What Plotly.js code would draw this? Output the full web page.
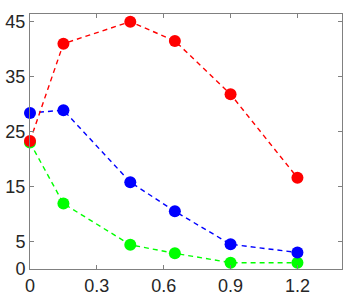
<!DOCTYPE html>
<html><head><meta charset="utf-8">
<script src="https://cdn.plot.ly/plotly-3.0.1.min.js"></script>
<style>html,body{margin:0;padding:0;background:#fff;}#chart{width:362px;height:300px;}</style>
</head><body><div id="chart"></div>
<script>
const xs = [0, 0.15, 0.45, 0.65, 0.9, 1.2];
const redVals = [23.3, 41.0, 45.0, 41.5, 31.8, 16.6];
const blueVals = [28.4, 28.9, 15.8, 10.5, 4.5, 3.0];
const greenVals = [23.0, 11.9, 4.4, 2.85, 1.15, 1.15];
const xTicks = [0, 0.3, 0.6, 0.9, 1.2];
const xTickText = ['0', '0.3', '0.6', '0.9', '1.2'];
const yTicks = [0, 5, 15, 25, 35, 45];
const yTickText = ['0', '5', '15', '25', '35', '45'];

function series(y, color) {
  return {x: xs, y: y, type: 'scatter', mode: 'lines+markers', cliponaxis: false,
    line: {color: color, width: 1.4, dash: '5px,4px'},
    marker: {color: color, size: 12}};
}
const data = [series(greenVals, '#00ff00'), series(blueVals, '#0000ff'), series(redVals, '#ff0000')];
const axisCommon = {showgrid: false, zeroline: false, showline: true, mirror: 'ticks',
  linecolor: '#808080', linewidth: 1, ticks: 'inside', ticklen: 4, tickcolor: '#808080',
  tickfont: {family: 'Liberation Sans, Arial, sans-serif', size: 18, color: '#262626'}};
const layout = {
  width: 362, height: 300, showlegend: false,
  margin: {l: 30, r: 20, t: 14, b: 31},
  paper_bgcolor: '#fff', plot_bgcolor: '#fff',
  xaxis: Object.assign({}, axisCommon, {range: [0, 1.4], tickvals: xTicks, ticktext: xTickText}),
  yaxis: Object.assign({}, axisCommon, {range: [0, 46.4], tickvals: yTicks, ticktext: yTickText})
};
Plotly.newPlot('chart', data, layout, {staticPlot: true});
</script></body></html>
